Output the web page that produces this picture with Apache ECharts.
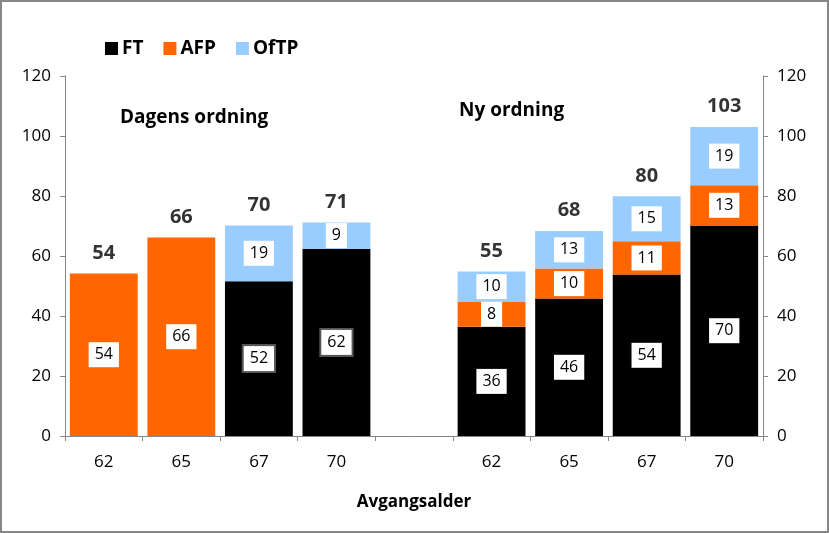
<!DOCTYPE html>
<html><head><meta charset="utf-8">
<script src="https://cdn.jsdelivr.net/npm/echarts@6/dist/echarts.min.js"></script>
<style>html,body{margin:0;padding:0;background:#fff}#c{width:829px;height:533px}</style>
</head><body><div id="c"></div>
<script>
var categories = ['62','65','67','70','','62','65','67','70'];
var ftValues   = [null, null, 51.6, 62.4, null, 36.4, 45.8, 53.8, 70.2];
var afpValues  = [54.2, 66.2, null, null, null, 8.4, 10.0, 11.1, 13.4];
var oftpValues = [null, null, 18.6, 8.8, null, 10.0, 12.5, 15.0, 19.4];
var totals     = [54, 66, 70, 71, null, 55, 68, 80, 103];
var yTicks = [0, 20, 40, 60, 80, 100, 120];

var FONT = 'Open Sans';
var chart = echarts.init(document.getElementById('c'));

function segLabel() {
  return {
    show: true, position: 'inside', color: '#000', fontFamily: FONT, fontSize: 16,
    backgroundColor: '#fff', padding: [5, 6, 4, 6],
    formatter: function (p) { return p.value == null ? '' : Math.round(p.value); }
  };
}

var totalPoints = totals.map(function (t, i) {
  if (t == null) return null;
  var s = (ftValues[i] || 0) + (afpValues[i] || 0) + (oftpValues[i] || 0);
  return { value: [i, s], label: { formatter: String(t) } };
}).filter(function (d) { return d; });

var ftData = ftValues.map(function (v, i) {
  if (v == null) return null;
  if (i === 2 || i === 3) return { value: v, label: { borderColor: '#555', borderWidth: 2 } };
  return v;
});

var axisLineStyle = { show: true, lineStyle: { color: '#868686', width: 1 } };
var yAxisBase = {
  type: 'value', min: 0, max: 120, interval: 20,
  axisLine: axisLineStyle,
  axisTick: { show: true, length: 5, lineStyle: { color: '#868686' } },
  splitLine: { show: false },
  axisLabel: { color: '#000', fontFamily: FONT, fontSize: 17, margin: 14,
    formatter: function (v) { return yTicks.indexOf(v) >= 0 ? String(v) : ''; } }
};

chart.setOption({
  animation: false,
  textStyle: { fontFamily: FONT },
  grid: { left: 65, right: 66, top: 76, bottom: 97, containLabel: false },
  legend: {
    data: ['FT', 'AFP', 'OfTP'], left: 100, top: 34, itemWidth: 13, itemHeight: 13, itemGap: 20,
    icon: 'rect',
    textStyle: { color: '#000', fontFamily: FONT, fontSize: 19, fontWeight: 'bold', padding: [0, 0, 0, -1] }
  },
  graphic: [
    { type: 'rect', shape: { x: 1, y: 1, width: 827, height: 531 }, style: { fill: 'none', stroke: '#868686', lineWidth: 2 }, silent: true },
    { type: 'text', left: 120, top: 108, style: { text: 'Dagens ordning', fill: '#000', font: 'bold 19px "' + FONT + '"' } },
    { type: 'text', left: 459, top: 101, style: { text: 'Ny ordning', fill: '#000', font: 'bold 19px "' + FONT + '"' } }
  ],
  xAxis: {
    type: 'category', data: categories,
    axisLine: axisLineStyle,
    axisTick: { show: true, length: 5, lineStyle: { color: '#868686' } },
    axisLabel: { color: '#000', fontFamily: FONT, fontSize: 17, margin: 18 },
    name: 'Avgangsalder', nameLocation: 'middle', nameGap: 58,
    nameTextStyle: { color: '#000', fontFamily: FONT, fontSize: 17, fontWeight: 'bold' }
  },
  yAxis: [
    Object.assign({}, yAxisBase, { position: 'left' }),
    Object.assign({}, yAxisBase, { position: 'right' })
  ],
  series: [
    { name: 'FT', type: 'bar', stack: 's', data: ftData, barCategoryGap: '12.5%', itemStyle: { color: '#000000' }, label: segLabel() },
    { name: 'AFP', type: 'bar', stack: 's', data: afpValues, itemStyle: { color: '#FF6600' }, label: segLabel() },
    { name: 'OfTP', type: 'bar', stack: 's', data: oftpValues, itemStyle: { color: '#99CCFF' }, label: segLabel() },
    { name: 'Total', type: 'scatter', data: totalPoints, symbolSize: 1, itemStyle: { color: 'rgba(0,0,0,0)' },
      label: { show: true, position: 'top', distance: 10, color: '#000', fontFamily: FONT, fontSize: 20, fontWeight: 'bold' },
      silent: true, z: 10 }
  ]
});
</script></body></html>
